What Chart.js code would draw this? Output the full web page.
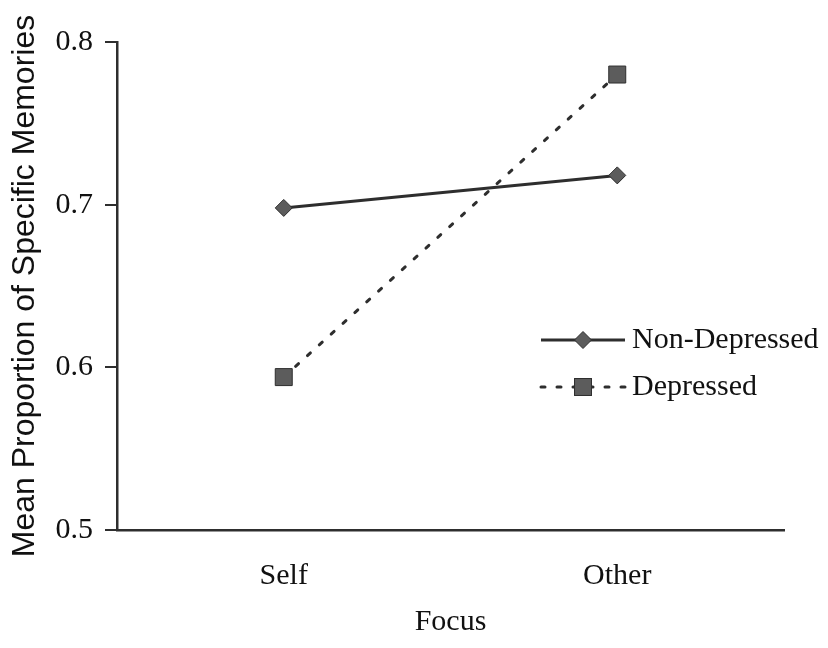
<!DOCTYPE html>
<html>
<head>
<meta charset="utf-8">
<script src="https://cdn.jsdelivr.net/npm/chart.js@4.4.0/dist/chart.umd.min.js"></script>
<style>
  body { margin: 0; background: #fff; }
  #wrap { width: 828px; height: 648px; }
</style>
</head>
<body>
<div id="wrap"><canvas id="focusChart"></canvas></div>
<script>
// data
const categories = ['Self', 'Other'];
const nonDepressed = [0.698, 0.718];
const depressed = [0.594, 0.780];
const yTicks = [0.5, 0.6, 0.7, 0.8];
const seriesNames = ['Non-Depressed', 'Depressed'];

const ink = '#2e2e2e';
const markFill = '#5c5c5c';
const serif = '"Liberation Serif", "Times New Roman", serif';

// legend sits to the right of the lines: sample line with marker in the middle
const insideLegend = {
    id: 'insideLegend',
    afterDraw(chart) {
        const ctx = chart.ctx;
        const rows = [
            { ds: chart.data.datasets[0], y: 340 },
            { ds: chart.data.datasets[1], y: 387 }
        ];
        ctx.save();
        rows.forEach(row => {
            const x0 = 541, x1 = 625, xm = 583;
            ctx.strokeStyle = ink;
            ctx.lineWidth = row.ds.borderWidth;
            ctx.lineCap = row.ds.borderCapStyle || 'butt';
            ctx.setLineDash(row.ds.borderDash || []);
            ctx.beginPath();
            ctx.moveTo(x0, row.y);
            ctx.lineTo(x1, row.y);
            ctx.stroke();
            ctx.setLineDash([]);
            ctx.lineCap = 'butt';
            ctx.fillStyle = markFill;
            ctx.lineWidth = 1;
            if (row.ds.pointStyle === 'rectRot') {
                const r = row.ds.pointRadius;
                ctx.beginPath();
                ctx.moveTo(xm, row.y - r);
                ctx.lineTo(xm + r, row.y);
                ctx.lineTo(xm, row.y + r);
                ctx.lineTo(xm - r, row.y);
                ctx.closePath();
                ctx.fill();
                ctx.stroke();
            } else {
                const s = row.ds.pointRadius * Math.SQRT1_2;
                ctx.fillRect(xm - s, row.y - s, 2 * s, 2 * s);
                ctx.strokeRect(xm - s, row.y - s, 2 * s, 2 * s);
            }
            ctx.fillStyle = '#111';
            ctx.font = '30px ' + serif;
            ctx.textBaseline = 'middle';
            ctx.textAlign = 'left';
            ctx.fillText(row.ds.label, 632, row.y);
        });
        ctx.restore();
    }
};

const ctx = document.getElementById('focusChart').getContext('2d');
new Chart(ctx, {
    type: 'line',
    data: {
        labels: categories,
        datasets: [{
            label: seriesNames[0],
            data: nonDepressed,
            borderColor: ink,
            borderWidth: 3,
            pointStyle: 'rectRot',
            pointRadius: 8.5,
            pointBackgroundColor: markFill,
            pointBorderColor: ink,
            pointBorderWidth: 1
        }, {
            label: seriesNames[1],
            data: depressed,
            borderColor: ink,
            borderWidth: 3,
            borderDash: [4, 12],
            borderCapStyle: 'round',
            pointStyle: 'rect',
            pointRadius: 12,
            pointBackgroundColor: markFill,
            pointBorderColor: ink,
            pointBorderWidth: 1
        }]
    },
    options: {
        responsive: true,
        maintainAspectRatio: false,
        animation: false,
        layout: { padding: { top: 42, right: 44, left: 0, bottom: 0 } },
        plugins: {
            legend: { display: false },
            tooltip: { enabled: false }
        },
        scales: {
            x: {
                offset: true,
                ticks: {
                    autoSkip: false,
                    maxRotation: 0,
                    padding: 20,
                    color: '#111',
                    font: { family: serif, size: 30 }
                },
                grid: { display: false },
                border: { display: true, color: ink, width: 2.5 },
                title: {
                    display: true,
                    text: 'Focus',
                    color: '#111',
                    font: { family: serif, size: 30 },
                    padding: { top: 0, bottom: 8 }
                },
                afterFit: scale => { scale.height = 118; }
            },
            y: {
                min: 0.5,
                max: 0.8,
                afterBuildTicks: scale => {
                    scale.ticks = yTicks.map(v => ({ value: v }));
                },
                ticks: {
                    padding: 12,
                    color: '#111',
                    font: { family: serif, size: 30 },
                    callback: v => v.toFixed(1)
                },
                grid: {
                    display: true,
                    drawOnChartArea: false,
                    drawTicks: true,
                    tickLength: 12,
                    color: ink,
                    lineWidth: 2
                },
                border: { display: true, color: ink, width: 2.5 },
                title: {
                    display: true,
                    text: 'Mean Proportion of Specific Memories',
                    color: '#111',
                    font: { family: '"Liberation Sans", Arial, sans-serif', size: 32 },
                    padding: { top: 6, bottom: 0 }
                },
                afterFit: scale => { scale.width = 117; }
            }
        }
    },
    plugins: [insideLegend]
});
</script>
</body>
</html>
